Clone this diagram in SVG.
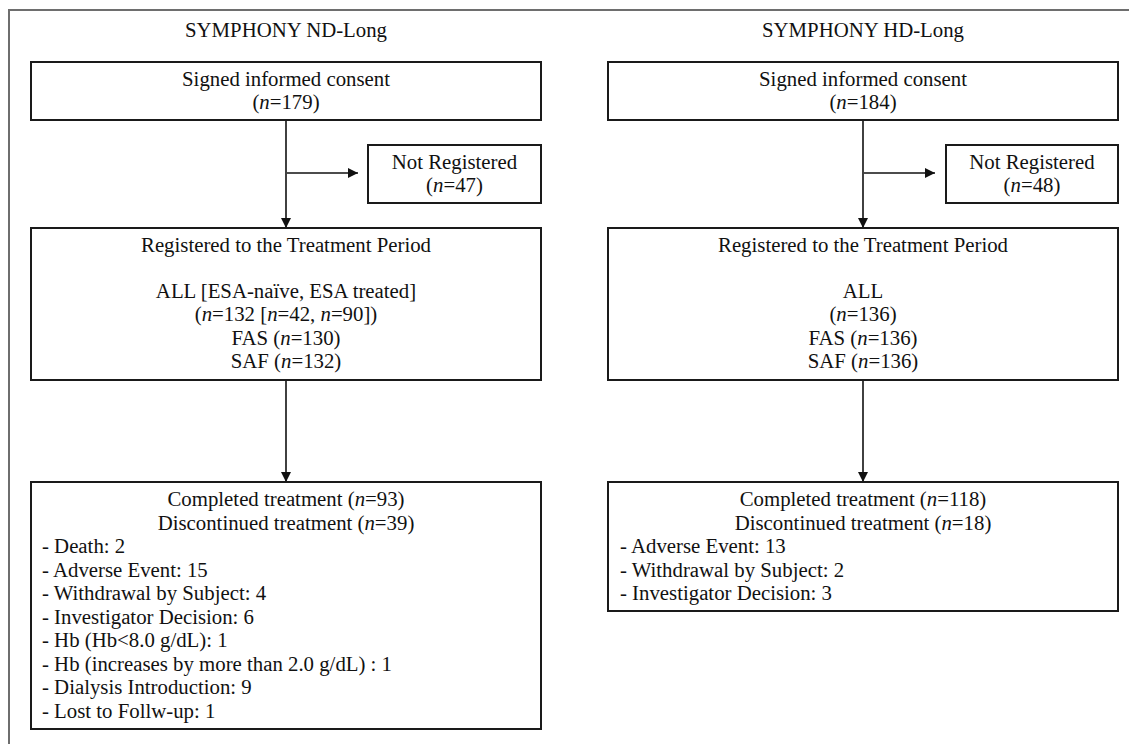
<svg xmlns="http://www.w3.org/2000/svg" width="1129" height="744" viewBox="0 0 1129 744">
<style>
.box{fill:#fff;stroke:#1a1a1a;stroke-width:2}
.t{font-family:"Liberation Serif","Times New Roman",serif;font-size:20.8px;fill:#111}
.c{text-anchor:middle}
.conn{stroke:#111;stroke-width:1.6;fill:none}
</style>
<defs>
<marker id="ah" viewBox="0 0 10 10" refX="10" refY="5" markerWidth="10" markerHeight="10" markerUnits="userSpaceOnUse" orient="auto">
<path d="M0,0 L10,5 L0,10 z" fill="#111"/>
</marker>
</defs>
<rect width="1129" height="744" fill="#fff"/>
<path d="M9,744 V10 H1129" fill="none" stroke="#6e6e6e" stroke-width="2"/>
<text class="t c" x="286" y="37">SYMPHONY ND-Long</text>
<text class="t c" x="863" y="37">SYMPHONY HD-Long</text>
<g id="connectors">
<path class="conn" d="M286,120 V228" marker-end="url(#ah)"/>
<path class="conn" d="M287,173 H358" marker-end="url(#ah)"/>
<path class="conn" d="M286,380 V482" marker-end="url(#ah)"/>
<path class="conn" d="M863,120 V228" marker-end="url(#ah)"/>
<path class="conn" d="M864,173 H935" marker-end="url(#ah)"/>
<path class="conn" d="M863,380 V482" marker-end="url(#ah)"/>
</g>
<g id="nd-consent">
<rect class="box" x="31" y="62" width="510" height="58"/>
<text class="t c" x="286" y="86">Signed informed consent</text>
<text class="t c" x="286" y="109">(<tspan font-style="italic">n</tspan>=179)</text>
</g>
<g id="nd-notreg">
<rect class="box" x="368" y="145" width="173" height="58"/>
<text class="t c" x="454.5" y="169">Not Registered</text>
<text class="t c" x="454.5" y="192">(<tspan font-style="italic">n</tspan>=47)</text>
</g>
<g id="nd-registered">
<rect class="box" x="31" y="228" width="510" height="152"/>
<text class="t c" x="286" y="252">Registered to the Treatment Period</text>
<text class="t c" x="286" y="298">ALL [ESA-naïve, ESA treated]</text>
<text class="t c" x="286" y="321">(<tspan font-style="italic">n</tspan>=132 [<tspan font-style="italic">n</tspan>=42, <tspan font-style="italic">n</tspan>=90])</text>
<text class="t c" x="286" y="345">FAS (<tspan font-style="italic">n</tspan>=130)</text>
<text class="t c" x="286" y="368">SAF (<tspan font-style="italic">n</tspan>=132)</text>
</g>
<g id="nd-outcome">
<rect class="box" x="31" y="482" width="510" height="247"/>
<text class="t c" x="286" y="506">Completed treatment (<tspan font-style="italic">n</tspan>=93)</text>
<text class="t c" x="286" y="529.5">Discontinued treatment (<tspan font-style="italic">n</tspan>=39)</text>
<text class="t" x="42" y="553">- Death: 2</text>
<text class="t" x="42" y="576.5">- Adverse Event: 15</text>
<text class="t" x="42" y="600">- Withdrawal by Subject: 4</text>
<text class="t" x="42" y="623.5">- Investigator Decision: 6</text>
<text class="t" x="42" y="647">- Hb (Hb&lt;8.0 g/dL): 1</text>
<text class="t" x="42" y="670.5">- Hb (increases by more than 2.0 g/dL) : 1</text>
<text class="t" x="42" y="694">- Dialysis Introduction: 9</text>
<text class="t" x="42" y="717.5">- Lost to Follw-up: 1</text>
</g>
<g id="hd-consent">
<rect class="box" x="608" y="62" width="510" height="58"/>
<text class="t c" x="863" y="86">Signed informed consent</text>
<text class="t c" x="863" y="109">(<tspan font-style="italic">n</tspan>=184)</text>
</g>
<g id="hd-notreg">
<rect class="box" x="946" y="145" width="172" height="58"/>
<text class="t c" x="1032" y="169">Not Registered</text>
<text class="t c" x="1032" y="192">(<tspan font-style="italic">n</tspan>=48)</text>
</g>
<g id="hd-registered">
<rect class="box" x="608" y="228" width="510" height="152"/>
<text class="t c" x="863" y="252">Registered to the Treatment Period</text>
<text class="t c" x="863" y="298">ALL</text>
<text class="t c" x="863" y="321">(<tspan font-style="italic">n</tspan>=136)</text>
<text class="t c" x="863" y="345">FAS (<tspan font-style="italic">n</tspan>=136)</text>
<text class="t c" x="863" y="368">SAF (<tspan font-style="italic">n</tspan>=136)</text>
</g>
<g id="hd-outcome">
<rect class="box" x="608" y="482" width="510" height="129"/>
<text class="t c" x="863" y="506">Completed treatment (<tspan font-style="italic">n</tspan>=118)</text>
<text class="t c" x="863" y="529.5">Discontinued treatment (<tspan font-style="italic">n</tspan>=18)</text>
<text class="t" x="620" y="553">- Adverse Event: 13</text>
<text class="t" x="620" y="576.5">- Withdrawal by Subject: 2</text>
<text class="t" x="620" y="600">- Investigator Decision: 3</text>
</g>
</svg>
